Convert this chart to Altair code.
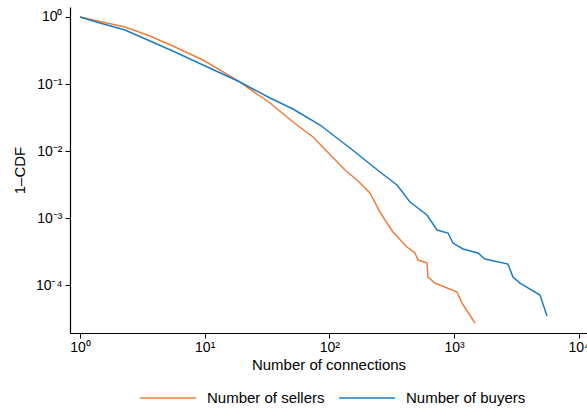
import altair as alt
import pandas as pd

# Number of sellers (orange)
sellers_x = [1, 1.447, 2.296, 3.642, 5.778, 9.69, 18.16, 33.40, 51.06, 73.87, 95.7, 133.4,
             166.4, 211.7, 254.6, 279.2, 323.6, 419.1, 485.9, 513.5, 606.3, 617.6, 702.9,
             1055, 1157, 1471]
sellers_y = [1, 0.857, 0.709, 0.521, 0.3566, 0.2282, 0.1147, 0.05205, 0.02709, 0.01618,
             0.00980, 0.005205, 0.003692, 0.002361, 0.001229, 0.000934, 0.000618, 0.000369,
             0.0003003, 0.0002361, 0.0002130, 0.0001316, 0.0001071, 7.86e-5, 5.38e-5, 2.71e-5]

# Number of buyers (blue)
buyers_x = [1, 1.447, 2.296, 3.642, 5.778, 9.69, 19.19, 33.40, 51.06, 84.1, 146.3, 254.6,
            348.5, 443.0, 606.3, 729.6, 893.7, 980.0, 1179, 1555, 1769, 2706, 2967, 3377,
            4886, 5559]
buyers_y = [1, 0.8137, 0.6397, 0.4384, 0.3002, 0.1921, 0.1071, 0.06180, 0.04234, 0.02443,
            0.01109, 0.004860, 0.003109, 0.001733, 0.001109, 0.000662, 0.000597, 0.000423,
            0.000345, 0.000300, 0.000244, 0.0002057, 0.0001316, 0.0001071, 7.09e-5, 3.45e-5]

series = ["Number of sellers", "Number of buyers"]
colors = ["#EF7D3A", "#1B7CC4"]
x_ticks = [1, 10, 100, 1000, 10000]
y_ticks = [1e-4, 1e-3, 1e-2, 1e-1, 1]

rows = []
for i, (x, y) in enumerate(zip(sellers_x, sellers_y)):
    rows.append({"series": series[0], "x": x, "y": y, "i": i})
for i, (x, y) in enumerate(zip(buyers_x, buyers_y)):
    rows.append({"series": series[1], "x": x, "y": y, "i": i})
df = pd.DataFrame(rows)

sup = "['⁻⁴','⁻³','⁻²','⁻¹','⁰','¹','²','³','⁴'][round(log(datum.value)/LN10)+4]"
label_expr = "'10' + " + sup

FONT = "Liberation Sans"

chart = alt.Chart(df).mark_line(strokeWidth=1.5).encode(
    x=alt.X("x:Q",
            scale=alt.Scale(type="log", domain=[0.8314, 11641], nice=False),
            axis=alt.Axis(values=x_ticks, labelExpr=label_expr, title="Number of connections",
                          grid=False, tickSize=5, labelPadding=2, titlePadding=3,
                          labelFlush=False, labelOverlap=False)),
    y=alt.Y("y:Q",
            scale=alt.Scale(type="log", domain=[1.923e-5, 1.41], nice=False),
            axis=alt.Axis(values=y_ticks, labelExpr=label_expr, title="1\u2013CDF",
                          grid=False, tickSize=5, labelPadding=3, titlePadding=8,
                          labelFlush=False, labelOverlap=False)),
    color=alt.Color("series:N",
                    scale=alt.Scale(domain=series, range=colors),
                    legend=alt.Legend(title=None, orient="none", direction="horizontal",
                                      legendX=69, legendY=362, symbolType="stroke",
                                      symbolSize=3136, symbolStrokeWidth=1.5,
                                      labelFontSize=15, labelFont=FONT, labelColor="black",
                                      columnPadding=11, labelOffset=10)),
    order="i:Q",
).properties(
    width=517, height=326,
    autosize=alt.AutoSizeParams(type="none"),
    padding={"left": 70, "top": 7, "right": 0, "bottom": 75},
    background="white",
).configure_view(stroke=None).configure_axis(
    labelFont=FONT, titleFont=FONT, labelFontSize=14, titleFontSize=15,
    titleFontWeight="normal", domainColor="black", tickColor="black",
    labelColor="black", titleColor="black", domainWidth=1.2, tickWidth=1
)

chart.save("out.html", embed_options={"renderer": "svg", "actions": False})
